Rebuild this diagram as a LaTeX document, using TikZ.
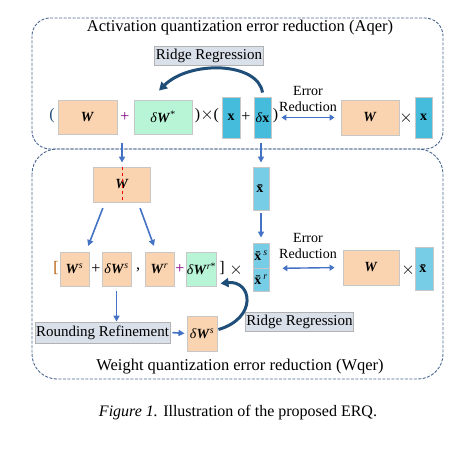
\documentclass[tikz,border=0pt]{standalone}
\usepackage{fontspec}
\setmainfont{Liberation Serif}
\usetikzlibrary{arrows.meta, positioning}

\definecolor{peach}{HTML}{FAD4B0}
\definecolor{mint}{HTML}{B8F5D6}
\definecolor{cyanbox}{HTML}{45BCDB}
\definecolor{cyanlight}{HTML}{78CDE6}
\definecolor{greybox}{HTML}{D9E0EA}
\definecolor{framec}{HTML}{4A6690}
\definecolor{flowc}{HTML}{4472C4}
\definecolor{navy}{HTML}{1F4E79}

\newcommand{\bW}{\textbf{\textit{W}}}
\newcommand{\bx}{\textbf{x}}
\newcommand{\bxb}{\textbf{\=x}}
\newcommand{\dlt}{\textit{δ}}

\begin{document}
\begin{tikzpicture}[x=1pt, y=-1pt, font=\fontsize{16}{18}\selectfont,
    mat/.style={draw=black!22, line width=0.9pt, inner sep=0pt, font=\fontsize{14}{16}\selectfont},
    wbox/.style={mat, fill=peach},
    dbox/.style={mat, fill=mint},
    xbox/.style={mat, fill=cyanbox},
    xbbox/.style={mat, fill=cyanlight},
    tag/.style={draw=black!30, line width=0.8pt, fill=greybox, inner xsep=1pt, inner ysep=0pt, minimum height=19, font=\fontsize{15}{17}\selectfont},
    frame/.style={draw=framec, dash pattern=on 3pt off 1.5pt, line width=0.9pt},
    flow/.style={-{Triangle[length=6pt,width=6pt]}, draw=flowc, line width=1.6pt},
    both/.style={{Triangle[length=5pt,width=6pt]}-{Triangle[length=5pt,width=6pt]}, draw=flowc, line width=1.4pt},
    ridge/.style={-{Triangle[length=8pt,width=9pt]}, draw=navy, line width=3pt}]
			\useasboundingbox (0,0) rectangle (473,449);
			
			% Frames
			\draw[frame, rounded corners=18] (32,18) rectangle (443,149);
			\draw[frame, rounded corners=25] (32,149) rectangle (443,379);
			\node[font=\fontsize{16.5}{18}\selectfont] (aqer) at (240,28) {Activation quantization error reduction (Aqer)};
			\node[font=\fontsize{16.5}{18}\selectfont] (wqer) at (240,367) {Weight quantization error reduction (Wqer)};
			
			% Activation row
			\node[wbox, minimum width=59, minimum height=34] (W1) at (87.5,117) {\bW};
			\node[dbox, minimum width=58, minimum height=34] (dW1) at (163,117) {\dlt\bW\textsuperscript{*}};
			\node[xbox, minimum width=18, minimum height=41] (x1) at (231,117.5) {\bx};
			\node[xbox, minimum width=17, minimum height=41] (dx1) at (262.5,117.5) {\dlt\bx};
			\node[wbox, minimum width=58, minimum height=35] (W1r) at (370,117.5) {\bW};
			\node[xbox, minimum width=17, minimum height=41] (x1r) at (423.5,117.5) {\bx};
			\node[text=navy] (o1) at (52,116) {(};
			\node[text=violet] (p1) at (125,117) {+};
			\node (o2) at (207,116) {)$\times$(};
			\node (p2) at (246,117) {+};
			\node[inner sep=0pt] (c1) at (275.5,116) {)};
			\node (t1) at (406,118) {$\times$};
			\node[tag, minimum width=106] (ridge1) at (209,56) {Ridge Regression};
			\node[align=center, inner sep=0pt, font=\fontsize{14}{16}\selectfont] (err1) at (308,99) {Error\\Reduction};
			
			\draw[ridge] ([yshift=4pt]dx1.north) .. controls (258,62) and (190,60) .. ([xshift=-4pt,yshift=9pt]dW1.north);
			\draw[both, shorten <=10pt, shorten >=6pt] (dx1.east) -- (W1r.west);
			
			% Split step
			\node[wbox, minimum width=57, minimum height=35] (W2) at (122,184.5) {\bW};
			\draw[red, dashed, line width=0.8pt] (W2.north) -- (W2.south);
			\node[xbbox, minimum width=16, minimum height=43] (xb2) at (261,188.5) {\bxb};
			\coordinate (a1) at (122,143);
			\coordinate (a2) at (261,143);
			\draw[flow, shorten >=4pt] (a1) -- (W2.north);
			\draw[flow, shorten >=4pt] (a2) -- (xb2.north);
			
			% Weight row
			\node[wbox, minimum width=29, minimum height=34] (Ws) at (74.5,269) {\bW\textsuperscript{\textit{s}}};
			\node[wbox, minimum width=29, minimum height=34] (dWs) at (116.5,269) {\dlt\bW\textsuperscript{\textit{s}}};
			\node[wbox, minimum width=29, minimum height=34] (Wr) at (159.5,269) {\bW\textsuperscript{\textit{r}}};
			\node[dbox, minimum width=29, minimum height=34] (dWr) at (201.5,269) {\dlt\bW\textsuperscript{\textit{r}*}};
			\node[xbbox, minimum width=16, minimum height=25] (xbs) at (261,255.5) {\bxb\textsuperscript{\textit{s}}};
			\node[xbbox, minimum width=16, minimum height=23] (xbr) at (261,279.5) {\bxb\textsuperscript{\textit{r}}};
			\node[wbox, minimum width=56, minimum height=35] (W3r) at (371,267.5) {\bW};
			\node[xbbox, minimum width=18, minimum height=43] (xb3r) at (424,268.5) {\bxb};
			\node[text=orange!70!black] (b1) at (56,268) {[};
			\node (p3) at (96,269) {+};
			\node (cm) at (138,270) {,};
			\node[text=violet] (p4) at (180,269) {+};
			\node (b2) at (222,268) {]};
			\node (t2) at (236,270) {$\times$};
			\node (t3) at (408,270) {$\times$};
			\node[align=center, inner sep=0pt, font=\fontsize{14}{16}\selectfont] (err2) at (308,246) {Error\\Reduction};
			
			\draw[flow, shorten <=6pt, shorten >=6pt] ([xshift=-17pt]W2.south) -- ([xshift=11.5pt]Ws.north);
			\draw[flow, shorten <=6pt, shorten >=6pt] ([xshift=16pt]W2.south) -- ([xshift=-3.5pt]Wr.north);
			\draw[flow, shorten <=3pt, shorten >=5pt] (xb2.south) -- (xbs.north);
			\draw[both, shorten <=13pt, shorten >=8pt] (xbs.south east) -- (W3r.west);
			
			% Refinement
			\node[tag, minimum height=21] (round) at (102.5,332.5) {Rounding Refinement};
			\node[wbox, minimum width=30, minimum height=35] (dWs4) at (202,333.5) {\dlt\bW\textsuperscript{\textit{s}}};
			\node[tag, minimum width=105] (ridge2) at (299.5,321.5) {Ridge Regression};
			\draw[flow, shorten <=5pt] (dWs.south) -- (dWs.south |- round.north);
			\draw[flow, shorten <=2pt, shorten >=2pt] (round.east) -- (dWs4.west);
			\draw[ridge] ([xshift=1pt,yshift=4pt]dWs4.east) .. controls (258,318) and (252,280) .. ([xshift=4pt,yshift=3pt]dWr.south east);
			
			% Caption
			\node (cap) at (238,413) {\textit{Figure 1.} Illustration of the proposed ERQ.};
		\end{tikzpicture}
\end{document}
